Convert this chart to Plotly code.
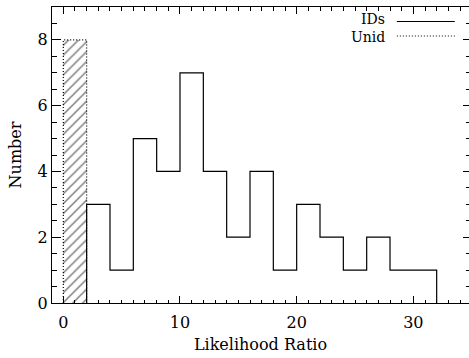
import plotly.graph_objects as go

# Histogram of likelihood ratios (bin width 2)
id_left_edges = [2, 4, 6, 8, 10, 12, 14, 16, 18, 20, 22, 24, 26, 28, 30]
id_counts = [3, 1, 5, 4, 7, 4, 2, 4, 1, 3, 2, 1, 2, 1, 1]
bin_width = 2

unid_left_edges = [0]
unid_counts = [8]

x_ticks = [0, 10, 20, 30]
y_ticks = [0, 2, 4, 6, 8]

FONT = "DejaVu Serif"
INK = "black"
DOTS = "1px,2px"

fig = go.Figure()

# Unidentified sources: hatched bar with a dotted outline
fig.add_trace(go.Bar(
    x=[e + bin_width / 2 for e in unid_left_edges],
    y=unid_counts,
    width=bin_width,
    marker=dict(color="white", line=dict(width=0),
                pattern=dict(shape="/", size=7, solidity=0.22,
                             fgcolor=INK, bgcolor="white")),
    showlegend=False, hoverinfo="skip",
))
ux, uy = [], []
for e, c in zip(unid_left_edges, unid_counts):
    ux += [e, e, e + bin_width, e + bin_width]
    uy += [0, c, c, 0]
fig.add_trace(go.Scatter(
    x=ux, y=uy, mode="lines",
    line=dict(color=INK, width=1.2, dash=DOTS),
    showlegend=False, hoverinfo="skip",
))

# Identified sources: stepped outline
step_x = [id_left_edges[0]] + id_left_edges + [id_left_edges[-1] + bin_width]
step_y = [0] + id_counts + [0]
fig.add_trace(go.Scatter(
    x=step_x, y=step_y, mode="lines", line_shape="hv",
    line=dict(color=INK, width=1.2),
    showlegend=False, hoverinfo="skip",
))

# Invisible trace carrying the right-hand y axis ticks
fig.add_trace(go.Scatter(x=[0], y=[0], mode="markers", marker=dict(opacity=0),
                         yaxis="y2", showlegend=False, hoverinfo="skip"))

fig.update_layout(
    width=469, height=358,
    margin=dict(l=52, r=0, t=7, b=55),
    paper_bgcolor="white", plot_bgcolor="white",
    font=dict(family=FONT, size=16, color=INK),
    bargap=0,
    xaxis=dict(
        range=[-0.97, 34.77], tickvals=x_ticks, ticks="inside", ticklen=7,
        tickcolor=INK, showline=True, linecolor=INK, linewidth=1, mirror="ticks",
        showgrid=False, zeroline=False, ticklabelstandoff=5,
        minor=dict(dtick=1, ticks="inside", ticklen=3.5, tickcolor=INK, showgrid=False),
        title=dict(text="Likelihood Ratio", standoff=7, font=dict(size=16)),
        tickfont=dict(size=16),
    ),
    yaxis=dict(
        range=[0, 9], tickvals=y_ticks, ticks="inside", ticklen=9,
        tickcolor=INK, showline=True, linecolor=INK, linewidth=1,
        showgrid=False, zeroline=False,
        minor=dict(dtick=0.5, ticks="inside", ticklen=5, tickcolor=INK, showgrid=False),
        title=dict(text="Number", standoff=12, font=dict(size=16)),
        tickfont=dict(size=16),
    ),
    yaxis2=dict(
        overlaying="y", side="right", range=[0, 9], tickvals=y_ticks,
        ticks="inside", ticklen=6, tickcolor=INK, showticklabels=False,
        showline=False, showgrid=False, zeroline=False,
        minor=dict(dtick=0.5, ticks="inside", ticklen=3, tickcolor=INK, showgrid=False),
    ),
)

# Legend: label text followed by a line sample (text y, line y in paper units)
legend_rows = [("IDs", "solid", 0.958, 0.951), ("Unid", DOTS, 0.897, 0.902)]
for label, dash, ty, ly in legend_rows:
    fig.add_annotation(x=0.80, y=ty, xref="paper", yref="paper", text=label,
                       showarrow=False, xanchor="right", yanchor="middle",
                       borderpad=0,
                       font=dict(family=FONT, size=14, color=INK))
    fig.add_shape(type="line", xref="paper", yref="paper",
                  x0=0.827, x1=0.966, y0=ly, y1=ly,
                  line=dict(color=INK, width=1, dash=dash))

fig.write_html("out.html")
